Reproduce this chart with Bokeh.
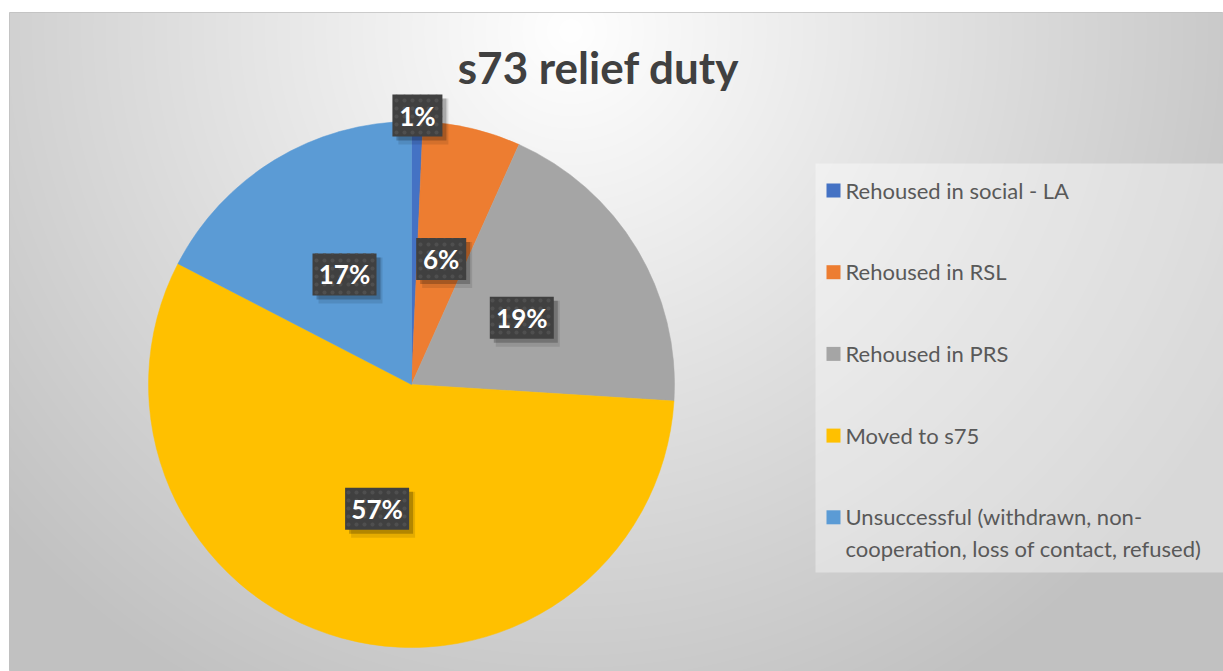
import numpy as np
from bokeh.plotting import figure
from bokeh.models import Range1d, ColumnDataSource
from bokeh.core.properties import value
from bokeh.embed import file_html
from bokeh.resources import INLINE

# ---------------- data ----------------
title_text = "s73 relief duty"
categories = [
    "Rehoused in social - LA",
    "Rehoused in RSL",
    "Rehoused in PRS",
    "Moved to s75",
    "Unsuccessful (withdrawn, non-\ncooperation, loss of contact, refused)",
]
shares = [0.7, 6.0, 19.3, 56.6, 17.4]
colors = ["#4472C4", "#ED7D31", "#A5A5A5", "#FFC000", "#5B9BD5"]

# ---------------- layout constants (pixel-like data units) ----------------
PW, PH = 1223, 671          # page
L, T = 9, 12                # frame offset
W, H = PW - L, PH - T       # frame size 1214 x 659


def X(px):
    return px - L


def Y(py):
    return PH - py


CX, CY, R = X(411), Y(384), 263

p = figure(width=PW, height=PH, output_backend="svg", toolbar_location=None,
           x_range=Range1d(0, W), y_range=Range1d(0, H),
           min_border_left=L, min_border_right=0, min_border_top=T, min_border_bottom=0)
p.axis.visible = False
p.grid.visible = False
p.outline_line_color = "#c0c0c0"
p.background_fill_color = "#e0e0e0"
p.border_fill_color = "white"

# ---------------- background radial gradient ----------------
xs = np.arange(W)[None, :] + float(L)
ys = float(T) + (H - 1 - np.arange(H))[:, None]
d = np.sqrt(((xs - 570) / 760.0) ** 2 + ((ys - 30) / 760.0) ** 2)
d = np.clip(d, 0, 1)
g = (255 - 62 * d).astype(np.uint32)
img = (255 << 24) | (g << 16) | (g << 8) | g
p.image_rgba(image=[img.astype(np.uint32)], x=0, y=0, dw=W, dh=H)

# legend panel overlay
p.quad(left=[X(815)], right=[W], bottom=[Y(572)], top=[Y(163)], fill_color="white",
       fill_alpha=0.38, line_color=None)

# ---------------- pie ----------------
vals = np.array(shares, dtype=float)
frac = vals / vals.sum()
cum_end = np.cumsum(frac)
cum_start = cum_end - frac
start = np.pi / 2 - 2 * np.pi * cum_start
end = np.pi / 2 - 2 * np.pi * cum_end
src = ColumnDataSource(dict(start=start, end=end, color=colors))
p.wedge(x=CX, y=CY, radius=R, start_angle="start", end_angle="end",
        direction="clock", fill_color="color", line_color="color", line_width=0.5,
        source=src)

# ---------------- data labels ----------------
mid = np.pi / 2 - 2 * np.pi * (cum_start + frac / 2)
rf = np.where(vals < 2, 1.023, 0.49)
lx = CX + R * rf * np.cos(mid)
ly = CY + R * rf * np.sin(mid)
labels = [f"{round(v)}%" for v in vals]
bw = np.array([14 * len(s) + 22 for s in labels], dtype=float)
bh = 42
lsrc = ColumnDataSource(dict(x=lx, y=ly, w=bw, t=labels,
                             sx1=lx + 4, sy1=ly - 4, sx2=lx + 6, sy2=ly - 6))
p.rect(x="sx2", y="sy2", width="w", height=bh + 4, fill_color="black",
       fill_alpha=0.10, line_color=None, source=lsrc)
p.rect(x="sx1", y="sy1", width="w", height=bh, fill_color="black",
       fill_alpha=0.22, line_color=None, source=lsrc)
p.rect(x="x", y="y", width="w", height=bh, fill_color="#404040", line_color=None,
       hatch_pattern="dot", hatch_color="#4f4f4f", hatch_scale=8, hatch_weight=1,
       source=lsrc)
p.text(x="x", y="y", text="t", text_align="center", text_baseline="middle",
       text_color="white", text_font=value("Lato"), text_font_style="bold",
       text_font_size="26px", source=lsrc)

# ---------------- title ----------------
p.text(x=[X(598)], y=[Y(66)], text=[title_text], text_align="center", text_baseline="middle",
       text_color="#404040", text_font=value("Lato"), text_font_style="bold",
       text_font_size="44px")

# ---------------- legend ----------------
n = len(categories)
leg_y = Y(190) - 81.7 * np.arange(n)
leg_src = ColumnDataSource(dict(y=leg_y, c=colors, t=categories,
                                sx=np.full(n, X(833)), tx=np.full(n, X(845)),
                                ty=leg_y + 14))
p.rect(x="sx", y="y", width=14, height=14, fill_color="c", line_color=None, source=leg_src)
p.text(x="tx", y="ty", text="t", text_align="left", text_baseline="top",
       text_color="#595959", text_font=value("Lato"), text_font_size="22px",
       text_line_height=1.18, source=leg_src)

open("out.html", "w").write(file_html(p, INLINE))
